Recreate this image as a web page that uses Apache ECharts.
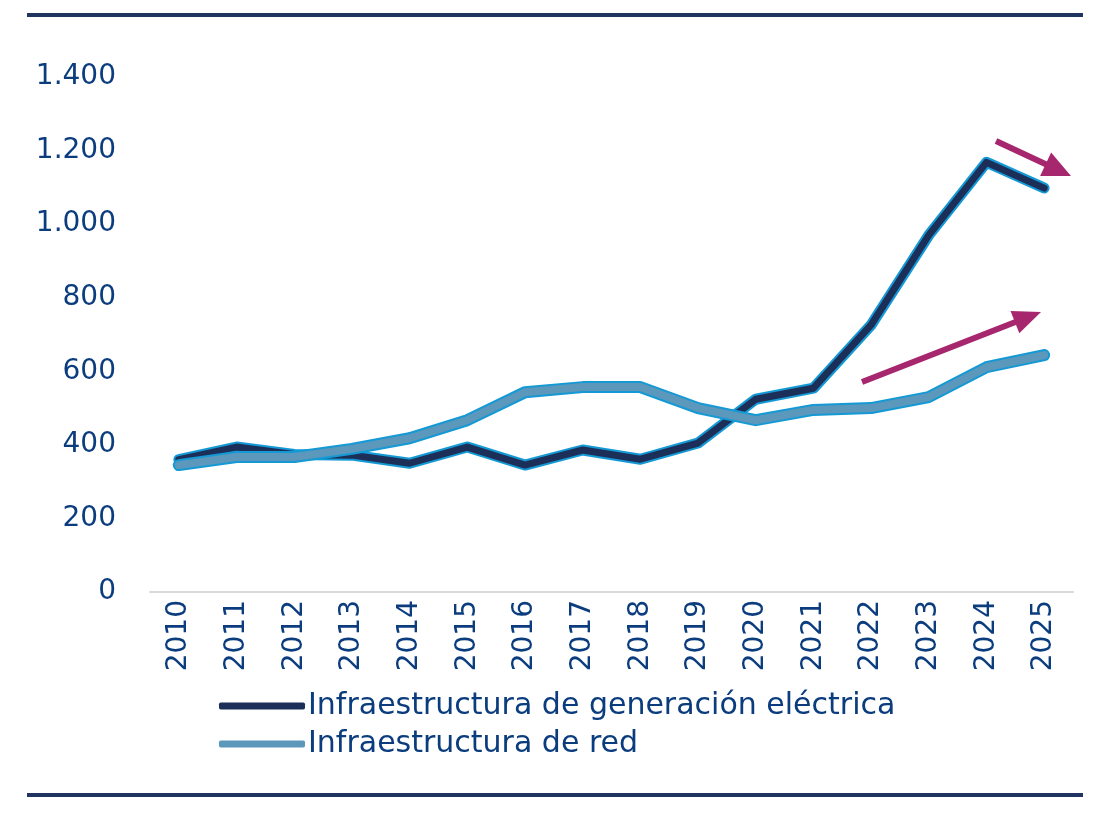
<!DOCTYPE html>
<html>
<head>
<meta charset="utf-8">
<script src="https://cdn.jsdelivr.net/npm/echarts@6/dist/echarts.min.js"></script>
<style>html,body{margin:0;padding:0;background:#fff}#c{width:1099px;height:817px}</style>
</head>
<body>
<div id="c"></div>
<script>
const years = ['2010','2011','2012','2013','2014','2015','2016','2017','2018','2019','2020','2021','2022','2023','2024','2025'];
const generacion = [360, 394, 374, 372, 350, 394, 345, 386, 361, 405, 524, 554, 726, 970, 1168, 1098];
const red = [345, 367, 367, 389, 418, 467, 543, 557, 557, 500, 467, 495, 500, 530, 611, 644];
const yTicks = [0, 200, 400, 600, 800, 1000, 1200, 1400];
const nameGen = 'Infraestructura de generación eléctrica';
const nameRed = 'Infraestructura de red';

const FONT = 'DejaVu Sans';
const TXT = '#0b3d7e';
const chart = echarts.init(document.getElementById('c'), null, {renderer: 'canvas'});

function fmt(v) { return String(v).replace(/\B(?=(\d{3})+(?!\d))/g, '.'); }

// annotation arrow (pixel based decoration)
function arrow(x1, y1, x2, y2, headLen, headHalf, color, width) {
  const dx = x2 - x1, dy = y2 - y1, L = Math.hypot(dx, dy);
  const ux = dx / L, uy = dy / L, px = -uy, py = ux;
  const bx = x2 - ux * headLen, by = y2 - uy * headLen;
  return [
    {type: 'line', shape: {x1: x1, y1: y1, x2: bx + ux * 2, y2: by + uy * 2},
     style: {stroke: color, lineWidth: width}, z: 100},
    {type: 'polygon', shape: {points: [[x2, y2], [bx + px * headHalf, by + py * headHalf], [bx - px * headHalf, by - py * headHalf]]},
     style: {fill: color}, z: 100}
  ];
}
const MAG = '#a7276e';

const outline = '#1499d5';
chart.setOption({
  animation: false,
  backgroundColor: '#fff',
  grid: {left: 150, right: 26, top: 77, bottom: 225},
  xAxis: {
    type: 'category', data: years, boundaryGap: true,
    axisLine: {lineStyle: {color: '#d9d9d9', width: 2}},
    axisTick: {show: false},
    axisLabel: {rotate: 90, color: TXT, fontFamily: FONT, fontSize: 28, margin: 8}
  },
  yAxis: {
    type: 'value', min: yTicks[0], max: yTicks[yTicks.length - 1], interval: 200,
    splitLine: {show: false}, axisLine: {show: false}, axisTick: {show: false},
    axisLabel: {color: TXT, fontFamily: FONT, fontSize: 28, margin: 34, formatter: fmt, padding: [6, 0, 0, 0]}
  },
  legend: {
    orient: 'vertical', left: 214, top: 685, itemGap: 6,
    itemWidth: 86, itemHeight: 7, icon: 'roundRect',
    textStyle: {color: TXT, fontFamily: FONT, fontSize: 30, lineHeight: 32, padding: [0, 0, 0, -2]},
    data: [
      {name: nameGen, itemStyle: {color: '#1c2f59'}},
      {name: nameRed, itemStyle: {color: '#5b98bb'}}
    ]
  },
  series: [
    {name: 'o1', type: 'line', data: generacion, symbol: 'none', z: 1,
     lineStyle: {color: outline, width: 11, cap: 'round', join: 'round'}, silent: true},
    {name: nameGen, type: 'line', data: generacion, symbol: 'none', z: 2,
     lineStyle: {color: '#1c2f59', width: 7, cap: 'round', join: 'round'}},
    {name: 'o2', type: 'line', data: red, symbol: 'none', z: 3,
     lineStyle: {color: outline, width: 12, cap: 'round', join: 'round'}, silent: true},
    {name: nameRed, type: 'line', data: red, symbol: 'none', z: 4,
     lineStyle: {color: '#5b98bb', width: 8, cap: 'round', join: 'round'}}
  ],
  graphic: [
    {type: 'line', shape: {x1: 27, y1: 15, x2: 1083, y2: 15}, style: {stroke: '#1f355f', lineWidth: 4}},
    {type: 'line', shape: {x1: 27, y1: 795, x2: 1083, y2: 795}, style: {stroke: '#1f355f', lineWidth: 4}}
  ].concat(arrow(996, 141, 1071, 176, 28, 13, MAG, 6))
   .concat(arrow(862, 382, 1041, 312, 28, 12, MAG, 6))
});
</script>
</body>
</html>
